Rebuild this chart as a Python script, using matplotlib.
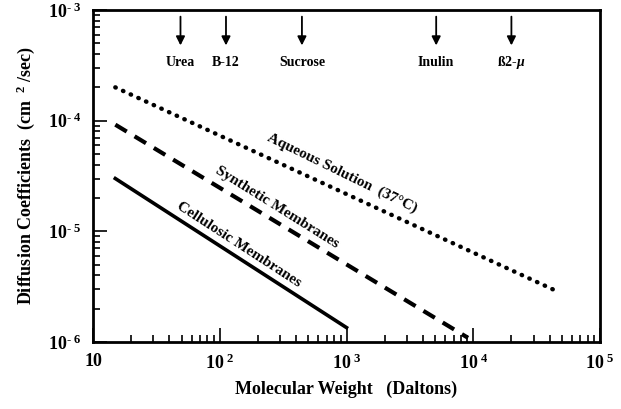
import matplotlib
matplotlib.use("Agg")
import matplotlib.pyplot as plt
from matplotlib.ticker import LogLocator, FixedLocator, NullFormatter

plt.rcParams['font.family'] = ['Liberation Serif', 'DejaVu Serif']
plt.rcParams['mathtext.fontset'] = 'custom'
plt.rcParams['mathtext.rm'] = 'Liberation Serif:bold'
plt.rcParams['mathtext.it'] = 'Liberation Serif:italic:bold'
plt.rcParams['mathtext.bf'] = 'Liberation Serif:bold'

# Data
aqueous_mw = [15, 45000]
aqueous_d = [2.0e-4, 2.9e-6]
synthetic_mw = [15, 9100]
synthetic_d = [9.2e-5, 1.09e-6]
cellulosic_mw = [15, 1000]
cellulosic_d = [3.0e-5, 1.35e-6]

solute_names = ["Urea", "B-12", "Sucrose", "Inulin", "ß2-$\\mu$"]
solute_mw = [49, 112, 445, 5100, 20000]

x_ticks = [10, 100, 1000, 10000, 100000]
x_labels = ["10", "10$^{\\ 2}$", "10$^{\\ 3}$", "10$^{\\ 4}$", "10$^{\\ 5}$"]
y_ticks = [1e-6, 1e-5, 1e-4, 1e-3]
y_labels = ["10$^{\\text{-}\\ 6}$", "10$^{\\text{-}\\ 5}$", "10$^{\\text{-}\\ 4}$", "10$^{\\text{-}\\ 3}$"]


def px2data(px, py):
    x = 10 ** (1 + (px - 93) / 126.75)
    y = 10 ** (-3 - (py - 10) / 110.7)
    return x, y


fig = plt.figure(figsize=(6.21, 4.09), dpi=100)
ax = fig.add_axes([93/621, 1 - 342/409, (600-93)/621, (342-10)/409])
ax.set_xscale('log')
ax.set_yscale('log')
ax.set_xlim(10, 1e5)
ax.set_ylim(1e-6, 1e-3)

ax.plot(aqueous_mw, aqueous_d, color='black', lw=3.2, linestyle=(0, (0.1, 1.8)),
        dash_capstyle='round', solid_capstyle='round')
ax.plot(synthetic_mw, synthetic_d, color='black', lw=3, linestyle=(0, (3.2, 2.2)))
ax.plot(cellulosic_mw, cellulosic_d, color='black', lw=2.6)

for name, mw in zip(solute_names, solute_mw):
    ax.annotate('', xy=(mw, 0.1 ** 3.32), xytext=(mw, 0.1 ** 3.06),
                arrowprops=dict(arrowstyle='-|>', color='black', lw=1.3,
                                mutation_scale=13, shrinkA=0, shrinkB=0))
    ax.text(mw, 0.1 ** 3.47, name, ha='center', va='center', fontsize=10,
            fontweight='bold')

ax.text(*px2data(342, 173), "Aqueous Solution  (37°C)", ha='center', va='center',
        rotation=-26, fontsize=11, fontweight='bold')
ax.text(*px2data(277, 207), "Synthetic Membranes", ha='center', va='center',
        rotation=-32, fontsize=11, fontweight='bold')
ax.text(*px2data(239, 245), "Cellulosic Membranes", ha='center', va='center',
        rotation=-33, fontsize=11, fontweight='bold')

ax.xaxis.set_major_locator(FixedLocator(x_ticks))
ax.set_xticklabels(x_labels)
ax.xaxis.set_minor_locator(LogLocator(base=10, subs=range(2, 10)))
ax.xaxis.set_minor_formatter(NullFormatter())
ax.yaxis.set_major_locator(FixedLocator(y_ticks))
ax.set_yticklabels(y_labels)
ax.yaxis.set_minor_locator(LogLocator(base=10, subs=range(2, 10)))
ax.yaxis.set_minor_formatter(NullFormatter())

ax.tick_params(which='both', direction='in', top=False, right=False, width=1.2)
ax.tick_params(which='major', length=10, labelsize=13, pad=8)
ax.tick_params(which='minor', length=5)
for lab in ax.get_xticklabels() + ax.get_yticklabels():
    lab.set_fontweight('bold')
for sp in ax.spines.values():
    sp.set_linewidth(2)

ax.set_xlabel("Molecular Weight   (Daltons)", fontsize=13, fontweight='bold', labelpad=6)
ax.set_ylabel("Diffusion Coefficients  (cm $^{\\ 2}$ /sec)", fontsize=13,
              fontweight='bold', labelpad=8)

fig.savefig("out.png", dpi=100)
